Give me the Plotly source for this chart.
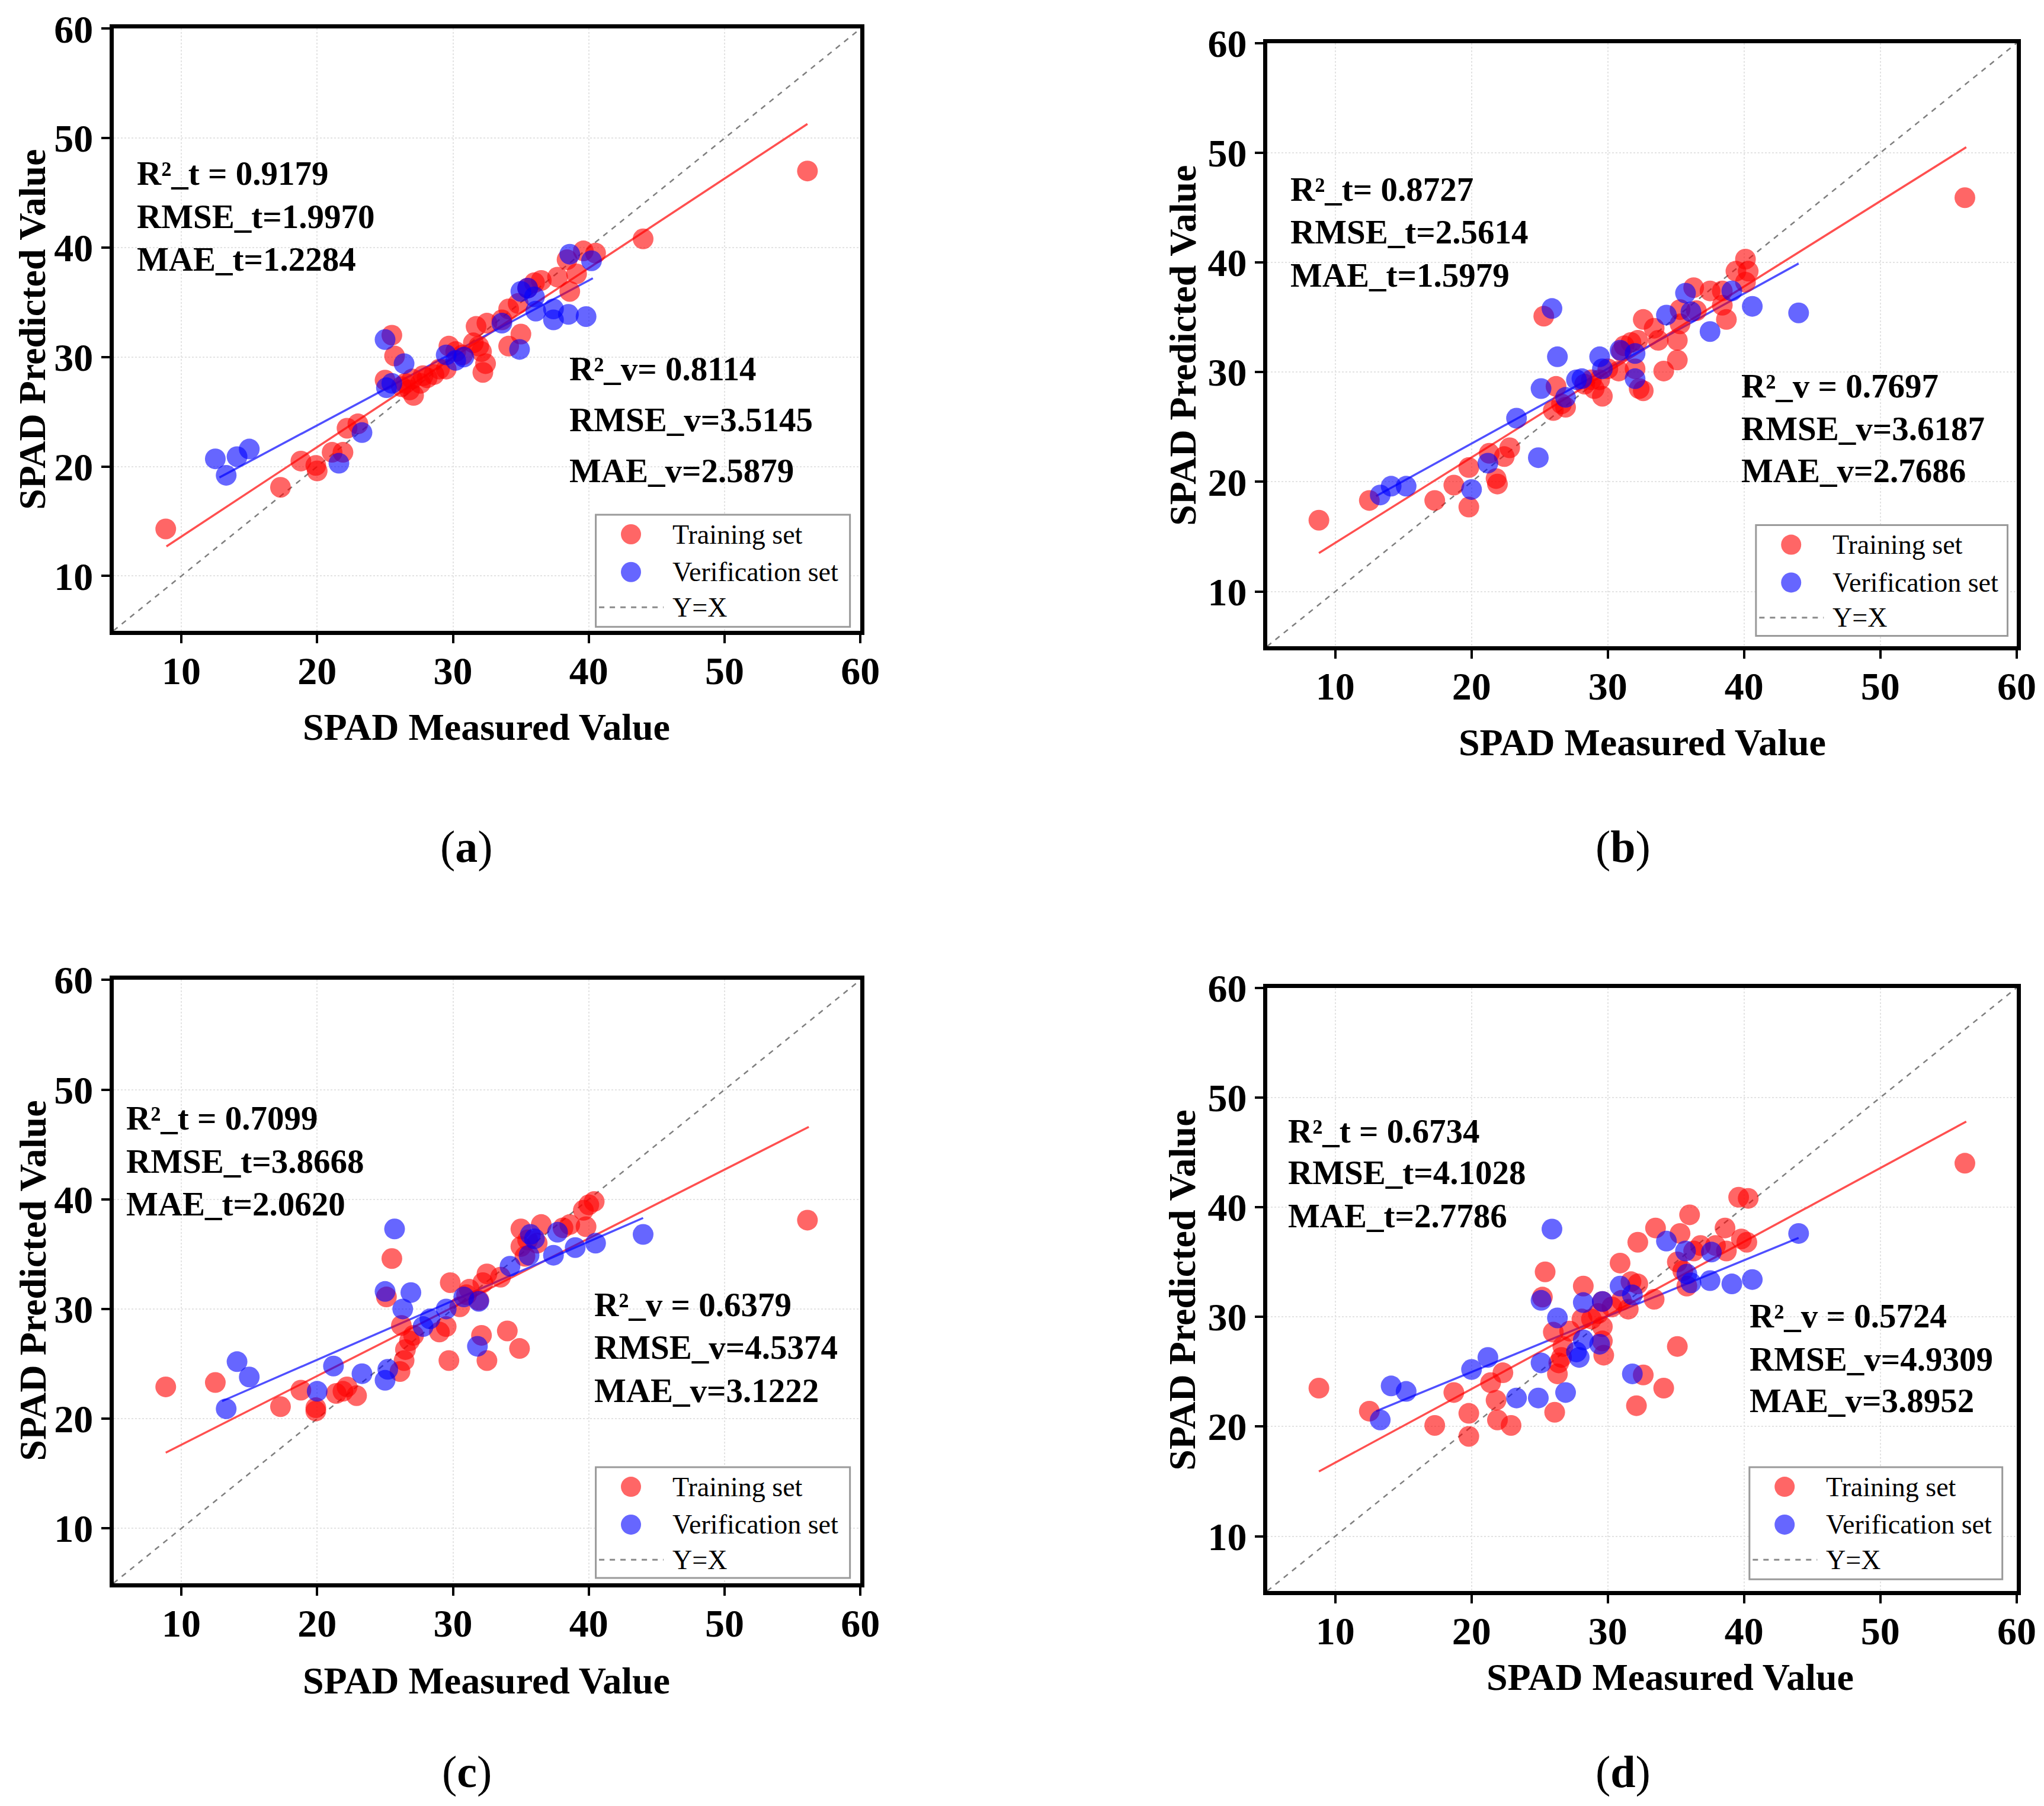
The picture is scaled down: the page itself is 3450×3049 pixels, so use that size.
import plotly.graph_objects as go

# ---------------- data ----------------
# Panel (a)
a_train_x = [8.85, 17.3, 18.8, 19.9, 20.0, 21.1, 21.9, 22.2, 23.0, 25.0, 25.5, 25.7, 26.2, 26.5, 26.8, 27.1,
             27.6, 28.1, 28.6, 29.0, 29.5, 29.7, 30.2, 30.7, 31.7, 31.9, 32.1, 32.2, 32.4, 32.5, 33.6, 34.1,
             34.1, 34.8, 35.0, 35.5, 36.0, 36.5, 37.7, 38.4, 38.6, 39.1, 39.6, 40.5, 44.0, 56.1, 27.0, 27.8, 31.5]
a_train_y = [14.3, 18.1, 20.5, 20.1, 19.6, 21.3, 21.3, 23.5, 23.9, 27.9, 32.0, 30.1, 27.3, 27.6, 27.0, 26.5,
             27.6, 28.1, 28.4, 28.9, 28.9, 31.0, 30.5, 30.2, 32.8, 31.0, 30.5, 28.6, 29.4, 33.1, 33.4, 34.4,
             31.0, 34.9, 32.1, 36.3, 36.8, 37.0, 37.3, 38.9, 36.0, 37.6, 39.7, 39.5, 40.8, 47.0, 28.0, 28.3, 31.3]
a_val_x = [12.5, 13.3, 14.1, 15.0, 21.6, 23.3, 25.0, 25.1, 25.5, 26.4, 29.5, 30.2, 30.8, 33.6, 34.9, 35.0,
           35.5, 36.0, 36.1, 37.4, 37.4, 38.5, 38.6, 39.8, 40.2]
a_val_y = [20.7, 19.2, 20.9, 21.6, 20.3, 23.1, 31.6, 27.2, 27.6, 29.4, 30.2, 29.7, 30.0, 33.1, 30.7, 36.0,
           36.3, 35.5, 34.2, 33.4, 34.4, 33.9, 39.4, 33.7, 38.8]
a_fit_t_x = [8.9, 56.1]
a_fit_t_y = [12.7, 51.3]
a_fit_v_x = [12.8, 40.3]
a_fit_v_y = [19.0, 37.2]
a_stats_t = ["R²_t = 0.9179", "RMSE_t=1.9970", "MAE_t=1.2284"]
a_stats_v = ["R²_v= 0.8114", "RMSE_v=3.5145", "MAE_v=2.5879"]

# Panel (b)
b_train_x = [8.8, 12.5, 17.3, 18.7, 19.8, 19.8, 21.3, 21.8, 21.9, 22.4, 22.8, 25.3, 26.0, 26.2, 26.6, 26.9,
             28.3, 28.8, 29.0, 29.4, 29.6, 30.0, 30.8, 31.0, 31.2, 32.0, 32.3, 32.6, 31.7, 32.2, 32.6, 33.4,
             33.7, 34.1, 35.1, 35.1, 35.3, 35.3, 36.3, 36.5, 37.5, 38.4, 38.7, 38.4, 39.4, 40.1, 40.3, 40.1, 56.2]
b_train_y = [16.5, 18.3, 18.3, 19.7, 17.7, 21.3, 22.6, 20.3, 19.8, 22.3, 23.1, 35.1, 26.5, 28.7, 27.1, 26.8,
             28.9, 29.3, 28.5, 29.3, 27.8, 30.3, 30.1, 31.9, 32.4, 30.3, 28.5, 28.3, 32.7, 32.9, 34.8, 34.0,
             32.9, 30.1, 31.1, 32.9, 34.4, 35.7, 37.7, 35.6, 37.4, 37.4, 34.8, 36.1, 39.2, 40.3, 39.2, 38.2, 45.9]
b_val_x = [13.3, 14.1, 15.2, 20.0, 21.2, 23.3, 24.9, 25.1, 25.9, 26.3, 26.9, 27.7, 28.1, 29.4, 29.6, 30.9,
           32.0, 32.0, 34.3, 35.7, 36.1, 37.5, 39.1, 40.6, 44.0]
b_val_y = [18.8, 19.6, 19.6, 19.3, 21.7, 25.8, 22.2, 28.5, 35.8, 31.4, 27.7, 29.3, 29.4, 31.4, 30.3, 32.0,
           29.4, 31.7, 35.2, 37.2, 35.5, 33.7, 37.4, 36.0, 35.4]
b_fit_t_x = [8.8, 56.3]
b_fit_t_y = [13.5, 50.5]
b_fit_v_x = [13.0, 44.0]
b_fit_v_y = [18.7, 39.9]
b_stats_t = ["R²_t= 0.8727", "RMSE_t=2.5614", "MAE_t=1.5979"]
b_stats_v = ["R²_v = 0.7697", "RMSE_v=3.6187", "MAE_v=2.7686"]

# Panel (c)
c_train_x = [8.85, 12.5, 17.3, 18.8, 19.9, 19.9, 21.4, 21.9, 22.2, 22.9, 25.1, 25.5, 26.1, 26.2, 26.4, 26.5,
             26.8, 27.1, 29.0, 29.5, 29.7, 29.8, 30.5, 31.0, 31.2, 31.9, 32.1, 32.2, 32.5, 32.5, 33.5, 34.0,
             34.9, 35.0, 35.0, 35.3, 35.5, 36.2, 36.5, 38.1, 38.6, 39.6, 39.8, 40.0, 40.4, 56.1]
c_train_y = [22.9, 23.3, 21.1, 22.6, 20.7, 21.0, 22.3, 22.5, 22.9, 22.1, 31.1, 34.6, 24.3, 28.5, 25.3, 26.3,
             27.1, 27.6, 27.9, 28.4, 25.3, 32.4, 30.2, 31.3, 31.8, 30.8, 27.6, 32.4, 33.2, 25.3, 32.9, 28.0,
             26.4, 37.3, 35.7, 34.8, 36.3, 36.0, 37.7, 37.4, 37.7, 39.0, 37.5, 39.5, 39.8, 38.1]
c_val_x = [13.3, 14.1, 15.0, 20.0, 21.2, 23.3, 25.0, 25.2, 25.0, 25.7, 26.3, 26.9, 27.8, 28.3, 29.5, 30.8,
           31.9, 31.8, 34.2, 35.7, 36.0, 35.6, 37.4, 37.7, 39.0, 40.5, 44.0]
c_val_y = [20.9, 25.2, 23.8, 22.5, 24.8, 24.1, 23.5, 24.5, 31.6, 37.3, 30.0, 31.5, 28.4, 29.1, 30.0, 31.1,
           30.7, 26.6, 33.9, 36.8, 36.4, 34.9, 34.9, 37.0, 35.6, 36.0, 36.8]
c_fit_t_x = [8.85, 56.2]
c_fit_t_y = [16.9, 46.6]
c_fit_v_x = [13.0, 44.0]
c_fit_v_y = [21.6, 38.3]
c_stats_t = ["R²_t = 0.7099", "RMSE_t=3.8668", "MAE_t=2.0620"]
c_stats_v = ["R²_v = 0.6379", "RMSE_v=4.5374", "MAE_v=3.1222"]

# Panel (d)
d_train_x = [8.8, 12.5, 17.3, 18.7, 19.8, 19.8, 21.4, 21.8, 21.9, 22.3, 22.9, 25.2, 25.4, 26.0, 26.1, 26.3,
             26.4, 26.6, 26.7, 27.2, 28.2, 28.1, 28.8, 29.3, 29.6, 29.6, 29.6, 29.7, 30.3, 30.9, 31.0, 31.5,
             31.7, 32.2, 32.2, 32.1, 32.6, 33.4, 33.5, 34.1, 35.1, 35.1, 35.3, 35.5, 35.8, 36.0, 36.3, 36.8,
             37.9, 38.7, 38.6, 39.6, 40.3, 39.8, 40.2, 56.2]
d_train_y = [23.5, 21.4, 20.1, 23.1, 21.2, 19.1, 24.0, 22.4, 20.6, 24.9, 20.1, 31.8, 34.1, 28.6, 21.3, 24.8,
             25.8, 26.3, 27.3, 28.7, 32.8, 29.8, 29.8, 30.3, 31.4, 29.1, 27.8, 26.5, 30.9, 34.9, 31.5, 30.7,
             33.2, 33.0, 36.8, 21.9, 24.7, 31.6, 38.1, 23.5, 27.3, 35.0, 37.6, 34.2, 32.8, 39.3, 36.0, 36.5,
             36.5, 36.0, 38.1, 40.9, 40.8, 37.1, 36.8, 44.0]
d_val_x = [13.3, 14.1, 15.2, 20.0, 21.2, 23.3, 24.9, 25.1, 25.1, 25.9, 26.3, 26.9, 27.7, 27.9, 28.2, 28.2,
           29.4, 29.6, 30.9, 31.8, 31.8, 34.3, 35.7, 35.8, 36.1, 37.5, 37.6, 39.1, 40.6, 44.0]
d_val_y = [20.6, 23.7, 23.2, 25.2, 26.3, 22.6, 22.6, 31.5, 25.8, 38.0, 29.9, 23.1, 26.8, 26.3, 31.3, 27.9,
           27.5, 31.4, 32.8, 32.0, 24.8, 36.9, 36.0, 33.9, 33.1, 33.3, 35.9, 33.0, 33.4, 37.6]
d_fit_t_x = [8.8, 56.3]
d_fit_t_y = [15.9, 47.8]
d_fit_v_x = [13.0, 44.0]
d_fit_v_y = [21.4, 37.2]
d_stats_t = ["R²_t = 0.6734", "RMSE_t=4.1028", "MAE_t=2.7786"]
d_stats_v = ["R²_v = 0.5724", "RMSE_v=4.9309", "MAE_v=3.8952"]

identity_xy = [5, 60]
tick_vals = [10, 20, 30, 40, 50, 60]
axis_range = [5, 60]
legend_names = ["Training set", "Verification set", "Y=X"]
x_title = "SPAD Measured Value"
y_title = "SPAD Predicted Value"
captions = ["(<b>a</b>)", "(<b>b</b>)", "(<b>c</b>)", "(<b>d</b>)"]

# ---------------- layout helpers ----------------
W, H = 3450, 3049
OW, OH = 1568.0, 1386.0   # design frame (scaled view of the page)
DX, DY = 3.6, 3.6         # compensate the page's body margin


def PX(x):
    return (x - DX) / OW


def PY(y):
    return 1.0 - (y - DY) / OH


SERIF = "Liberation Serif, Times New Roman, serif"
RED = "rgba(255,0,0,0.6)"
BLUE = "rgba(0,0,255,0.6)"

# plot boxes in design-frame pixels: left, right, top, bottom
panels = [
    dict(tx=a_train_x, ty=a_train_y, vx=a_val_x, vy=a_val_y, ftx=a_fit_t_x, fty=a_fit_t_y,
         fvx=a_fit_v_x, fvy=a_fit_v_y, st=a_stats_t, sv=a_stats_v,
         box=(87, 660, 22, 484), st_pos=(104, [133, 166, 199]), sv_pos=(436, [283, 322, 361]),
         leg=(457, 652, 395, 481), xt=(373, 558), yt=(25, 253), cap=(358, 650)),
    dict(tx=b_train_x, ty=b_train_y, vx=b_val_x, vy=b_val_y, ftx=b_fit_t_x, fty=b_fit_t_y,
         fvx=b_fit_v_x, fvy=b_fit_v_y, st=b_stats_t, sv=b_stats_v,
         box=(972, 1547, 33, 496), st_pos=(989, [145, 178, 211]), sv_pos=(1335, [296, 329, 361]),
         leg=(1347, 1540, 403, 488), xt=(1260, 570), yt=(907, 265), cap=(1245, 650)),
    dict(tx=c_train_x, ty=c_train_y, vx=c_val_x, vy=c_val_y, ftx=c_fit_t_x, fty=c_fit_t_y,
         fvx=c_fit_v_x, fvy=c_fit_v_y, st=c_stats_t, sv=c_stats_v,
         box=(87, 660, 752, 1215), st_pos=(96, [858, 891, 924]), sv_pos=(455, [1001, 1034, 1067]),
         leg=(457, 652, 1126, 1211), xt=(373, 1290), yt=(25, 983), cap=(358, 1360)),
    dict(tx=d_train_x, ty=d_train_y, vx=d_val_x, vy=d_val_y, ftx=d_fit_t_x, fty=d_fit_t_y,
         fvx=d_fit_v_x, fvy=d_fit_v_y, st=d_stats_t, sv=d_stats_v,
         box=(972, 1547, 758, 1221), st_pos=(987, [868, 900, 933]), sv_pos=(1341, [1010, 1043, 1075]),
         leg=(1342, 1536, 1126, 1212), xt=(1281, 1287), yt=(907, 990), cap=(1245, 1360)),
]

fig = go.Figure()
annotations = []
shapes = []
layout_extra = {}

R_X = 17.0 / W   # legend circle radius in paper units
R_Y = 17.0 / H

for i, p in enumerate(panels):
    n = i + 1
    xa = "x" if n == 1 else f"x{n}"
    ya = "y" if n == 1 else f"y{n}"
    fig.add_trace(go.Scatter(x=identity_xy, y=identity_xy, mode="lines", name=legend_names[2],
                             line=dict(color="#7f7f7f", width=2.5, dash="dash"),
                             xaxis=xa, yaxis=ya, showlegend=False, hoverinfo="skip"))
    fig.add_trace(go.Scatter(x=p["ftx"], y=p["fty"], mode="lines", line=dict(color="rgba(255,60,60,0.9)", width=3.5),
                             xaxis=xa, yaxis=ya, showlegend=False, hoverinfo="skip"))
    fig.add_trace(go.Scatter(x=p["fvx"], y=p["fvy"], mode="lines", line=dict(color="rgba(60,60,255,0.9)", width=3.5),
                             xaxis=xa, yaxis=ya, showlegend=False, hoverinfo="skip"))
    fig.add_trace(go.Scatter(x=p["tx"], y=p["ty"], mode="markers", name=legend_names[0],
                             marker=dict(color=RED, size=35, line=dict(width=0)),
                             xaxis=xa, yaxis=ya, showlegend=False))
    fig.add_trace(go.Scatter(x=p["vx"], y=p["vy"], mode="markers", name=legend_names[1],
                             marker=dict(color=BLUE, size=35, line=dict(width=0)),
                             xaxis=xa, yaxis=ya, showlegend=False))

    l, r, t, b = p["box"]
    axis_common = dict(range=axis_range, tickvals=tick_vals, showline=True, linecolor="black", linewidth=7,
                       mirror=True, ticks="outside", ticklen=14, tickwidth=4, tickcolor="black",
                       showgrid=True, gridcolor="#e3e3e3", gridwidth=2, griddash="dot", zeroline=False,
                       automargin=False,
                       tickfont=dict(family=SERIF, size=66, color="black", weight="bold"))
    xkey = "xaxis" if n == 1 else f"xaxis{n}"
    ykey = "yaxis" if n == 1 else f"yaxis{n}"
    layout_extra[xkey] = dict(domain=[PX(l), PX(r)], anchor=ya, ticklabelstandoff=-10, **axis_common)
    layout_extra[ykey] = dict(domain=[PY(b), PY(t)], anchor=xa, **axis_common)

    # statistics text
    for txt, yy in zip(p["st"], p["st_pos"][1]):
        annotations.append(dict(text=txt, x=PX(p["st_pos"][0]), y=PY(yy), xref="paper", yref="paper",
                                xanchor="left", yanchor="middle", showarrow=False,
                                font=dict(family=SERIF, size=57, color="black", weight="bold")))
    for txt, yy in zip(p["sv"], p["sv_pos"][1]):
        annotations.append(dict(text=txt, x=PX(p["sv_pos"][0]), y=PY(yy), xref="paper", yref="paper",
                                xanchor="left", yanchor="middle", showarrow=False,
                                font=dict(family=SERIF, size=57, color="black", weight="bold")))
    # axis titles
    annotations.append(dict(text=x_title, x=PX(p["xt"][0]), y=PY(p["xt"][1]), xref="paper", yref="paper",
                            xanchor="center", yanchor="middle", showarrow=False,
                            font=dict(family=SERIF, size=64, color="black", weight="bold")))
    annotations.append(dict(text=y_title, x=PX(p["yt"][0]), y=PY(p["yt"][1]), xref="paper", yref="paper",
                            xanchor="center", yanchor="middle", showarrow=False, textangle=-90,
                            font=dict(family=SERIF, size=64, color="black", weight="bold")))
    annotations.append(dict(text=captions[i], x=PX(p["cap"][0]), y=PY(p["cap"][1]), xref="paper", yref="paper",
                            xanchor="center", yanchor="middle", showarrow=False,
                            font=dict(family=SERIF, size=76, color="black")))

    # legend box (drawn by hand so the symbols keep the marker size)
    ll, lr, lt, lb = p["leg"]
    shapes.append(dict(type="rect", xref="paper", yref="paper", x0=PX(ll), x1=PX(lr), y0=PY(lb), y1=PY(lt),
                       line=dict(color="#9a9a9a", width=3), fillcolor="white", layer="above"))
    rows = [lt + 15, lt + 44, lt + 71]
    for col, yy in zip([RED, BLUE], rows[:2]):
        cx, cy = PX(ll + 27), PY(yy)
        shapes.append(dict(type="circle", xref="paper", yref="paper", x0=cx - R_X, x1=cx + R_X,
                           y0=cy - R_Y, y1=cy + R_Y, fillcolor=col, line=dict(width=0), layer="above"))
    shapes.append(dict(type="line", xref="paper", yref="paper", x0=PX(ll + 2.5), x1=PX(ll + 52),
                       y0=PY(rows[2]), y1=PY(rows[2]), line=dict(color="#8a8a8a", width=3, dash="dash"),
                       layer="above"))
    for name, yy in zip(legend_names, rows):
        annotations.append(dict(text=name, x=PX(ll + 58), y=PY(yy), xref="paper", yref="paper",
                                xanchor="left", yanchor="middle", showarrow=False,
                                font=dict(family=SERIF, size=46, color="black")))

fig.update_layout(width=W, height=H, margin=dict(l=0, r=0, t=0, b=0, autoexpand=False),
                  paper_bgcolor="white", plot_bgcolor="white", showlegend=False,
                  annotations=annotations, shapes=shapes, **layout_extra)

fig.write_html("out.html")
